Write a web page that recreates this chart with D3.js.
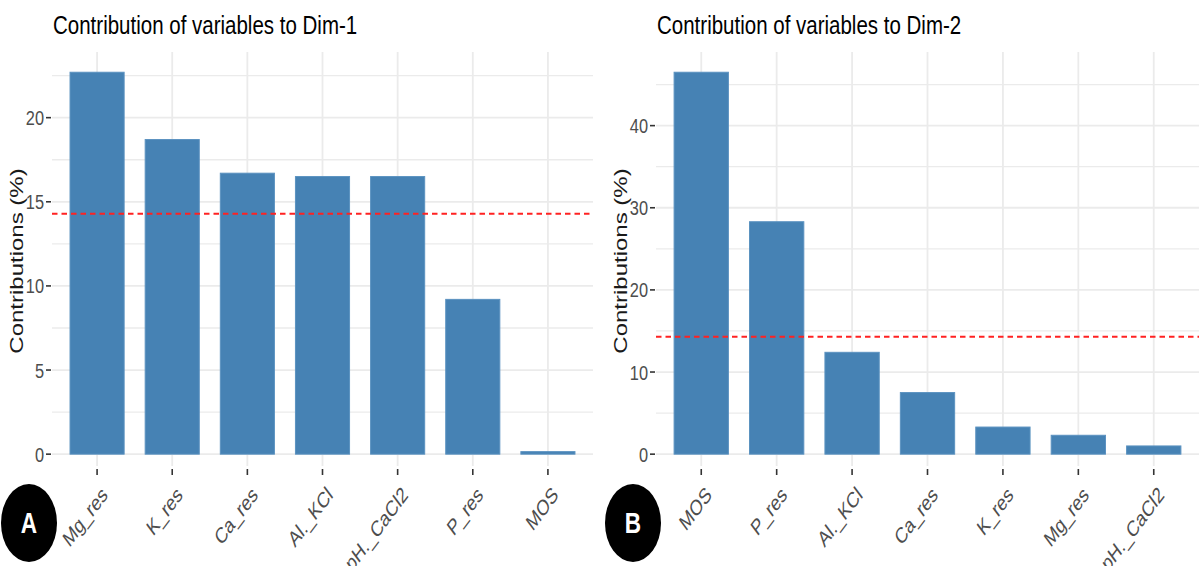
<!DOCTYPE html>
<html>
<head>
<meta charset="utf-8">
<script src="https://cdn.jsdelivr.net/npm/d3@7"></script>
<style>
  html, body { margin: 0; padding: 0; background: #fff; }
  svg { display: block; font-family: "Liberation Sans", Arial, sans-serif; }
</style>
</head>
<body>
<svg id="chart" width="1201" height="566"></svg>
<script>
// Contribution of variables to the first two PCA dimensions
const catsDim1 = ["Mg_res", "K_res", "Ca_res", "Al._KCl", "pH._CaCl2", "P_res", "MOS"];
const valsDim1 = [22.7, 18.7, 16.7, 16.5, 16.5, 9.2, 0.15];
const ticksDim1 = [0, 5, 10, 15, 20];

const catsDim2 = ["MOS", "P_res", "Al._KCl", "Ca_res", "K_res", "Mg_res", "pH._CaCl2"];
const valsDim2 = [46.5, 28.3, 12.4, 7.5, 3.3, 2.3, 1.0];
const ticksDim2 = [0, 10, 20, 30, 40];

// expected average contribution (100 / 7 variables)
const refLine = 14.29;

const titles = ["Contribution of variables to Dim-1", "Contribution of variables to Dim-2"];
const panelTags = ["A", "B"];

const svg = d3.select("#chart");
const BAR = "#4682B4";
const GRID = "#EBEBEB";

// lettering is drawn horizontally condensed
function label(g, x, y, text, sx, extra) {
  return g.append("text")
    .attr("transform", `translate(${x},${y}) scale(${sx},1)` + (extra || ""))
    .text(text);
}

function panel(opts) {
  const { left, right, top, bottom, cats, vals, ticks, minorStep, title, tag, tagX } = opts;
  const g = svg.append("g");
  const vmax = d3.max(vals);

  const x = d3.scalePoint().domain(cats).range([left, right]).padding(0.6);
  const bw = x.step() * 0.72;
  const y = d3.scaleLinear()
    .domain([-0.031 * vmax, 1.053 * vmax])
    .range([bottom, top]);

  // minor horizontal grid
  const minor = d3.range(minorStep / 2, y.domain()[1], minorStep);
  g.append("g").selectAll("line").data(minor).join("line")
    .attr("x1", left).attr("x2", right)
    .attr("y1", d => y(d)).attr("y2", d => y(d))
    .attr("stroke", GRID).attr("stroke-width", 1.3);

  // major horizontal grid
  g.append("g").selectAll("line").data(ticks).join("line")
    .attr("x1", left).attr("x2", right)
    .attr("y1", d => y(d)).attr("y2", d => y(d))
    .attr("stroke", GRID).attr("stroke-width", 1.8);

  // vertical grid
  g.append("g").selectAll("line").data(cats).join("line")
    .attr("x1", d => x(d)).attr("x2", d => x(d))
    .attr("y1", top).attr("y2", bottom)
    .attr("stroke", GRID).attr("stroke-width", 1.8);

  // bars
  g.append("g").selectAll("rect").data(cats).join("rect")
    .attr("x", d => x(d) - bw / 2)
    .attr("width", bw)
    .attr("y", (d, i) => y(vals[i]))
    .attr("height", (d, i) => y(0) - y(vals[i]))
    .attr("fill", BAR)
    .attr("stroke", "#5b92c0")
    .attr("stroke-width", 1);

  // reference line
  g.append("line")
    .attr("x1", left).attr("x2", right)
    .attr("y1", y(refLine)).attr("y2", y(refLine))
    .attr("stroke", "#f22")
    .attr("stroke-width", 2)
    .attr("stroke-dasharray", "5.5,4");

  // y axis ticks and labels
  const ya = g.append("g");
  ticks.forEach(t => {
    ya.append("line")
      .attr("x1", left - 6).attr("x2", left - 1)
      .attr("y1", y(t)).attr("y2", y(t))
      .attr("stroke", "#333").attr("stroke-width", 1.6);
    label(ya, left - 8, y(t), t, 0.78)
      .attr("text-anchor", "end")
      .attr("dy", "0.36em")
      .attr("font-size", 21)
      .attr("fill", "#4D4D4D");
  });

  // x axis ticks and labels
  const xa = g.append("g");
  cats.forEach(c => {
    xa.append("line")
      .attr("x1", x(c)).attr("x2", x(c))
      .attr("y1", bottom + 3).attr("y2", bottom + 9)
      .attr("stroke", "#333").attr("stroke-width", 1.6);
    label(xa, x(c) + 3, bottom + 19, c, 0.75, " rotate(-45)")
      .attr("text-anchor", "end")
      .attr("dy", "0.72em")
      .attr("font-size", 22)
      .attr("fill", "#4D4D4D");
  });

  // axis title
  g.append("text")
    .attr("transform", `translate(${left - 29},${(top + bottom) / 2 + 2}) scale(0.8,1) rotate(-90)`)
    .attr("text-anchor", "middle")
    .attr("font-size", 24)
    .attr("fill", "#1a1a1a")
    .text("Contributions (%)");

  // plot title
  label(g, left + 1, 34, title, 0.82)
    .attr("font-size", 25)
    .attr("fill", "#000");

  // panel tag
  g.append("ellipse")
    .attr("cx", tagX).attr("cy", 523)
    .attr("rx", 28).attr("ry", 39)
    .attr("fill", "#000");
  label(g, tagX, 523, tag, 0.78)
    .attr("text-anchor", "middle")
    .attr("dy", "0.36em")
    .attr("font-size", 29)
    .attr("font-weight", "bold")
    .attr("fill", "#fff");
}

panel({ left: 52, right: 593, top: 52, bottom: 466,
        cats: catsDim1, vals: valsDim1, ticks: ticksDim1, minorStep: 5,
        title: titles[0], tag: panelTags[0], tagX: 29 });
panel({ left: 656, right: 1199, top: 52, bottom: 466,
        cats: catsDim2, vals: valsDim2, ticks: ticksDim2, minorStep: 10,
        title: titles[1], tag: panelTags[1], tagX: 633 });
</script>
</body>
</html>
